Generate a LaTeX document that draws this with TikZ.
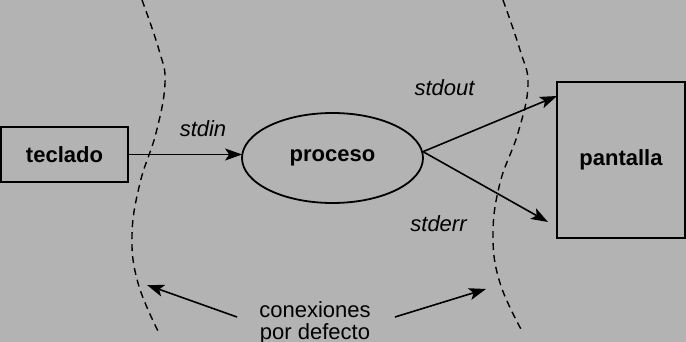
\documentclass[tikz,border=0pt]{standalone}
\usepackage{fontspec}
\setmainfont{Liberation Sans}
\usetikzlibrary{arrows.meta,shapes.geometric}
\definecolor{bg}{HTML}{B3B3B3}
\begin{document}
\begin{tikzpicture}[x=1pt,y=-1pt,
  every node/.style={font=\fontsize{22}{22}\selectfont},
  device/.style={draw,line width=1.8pt,inner sep=0pt,font=\fontsize{22}{22}\selectfont\bfseries},
  proc/.style={draw,ellipse,line width=1.8pt,inner sep=0pt,font=\fontsize{22}{22}\selectfont\bfseries},
  stream/.style={font=\fontsize{22}{22}\selectfont\itshape,anchor=base,inner sep=0pt},
  note/.style={anchor=base,inner sep=0pt},
  flow/.style={-{Stealth[length=17pt,width=12pt,inset=4pt]}},
  border/.style={dashed,line width=1.4pt,dash pattern=on 7pt off 5pt}]
  % background
  \fill[bg] (0,0) rectangle (686,342);
  \useasboundingbox (0,0) rectangle (686,342);

  % boundaries of the default connections
  \draw[border] plot[smooth,tension=0.7] coordinates
    {(142,0) (159,50) (165,83) (156,133) (140,183) (132,235) (138,283) (158,331)};
  \draw[border] plot[smooth,tension=0.7] coordinates
    {(503,0) (520,50) (528,85) (518,133) (500,183) (493,235) (500,283) (522,331)};

  % devices and process
  \node[device,minimum width=127pt,minimum height=55pt] (teclado) at (64.5,154.5) {teclado};
  \node[proc,minimum width=181pt,minimum height=90pt] (proceso) at (332.5,158) {proceso};
  \node[device,minimum width=128pt,minimum height=156pt] (pantalla) at (621,160) {pantalla};

  % stream labels
  \node[stream] (stdin) at (203,137) {stdin};
  \node[stream] (stdout) at (444.5,96) {stdout};
  \node[stream] (stderr) at (438.5,232) {stderr};

  % note
  \node[note] (lbl1) at (315,317) {conexiones};
  \node[note] (lbl2) at (315,339) {por defecto};

  % arrow end points
  \coordinate (inend) at (teclado.east -| proceso.west);
  \coordinate (outtip) at (557,96);
  \coordinate (errtip) at (548,222);
  \coordinate (ltail) at (237,317);
  \coordinate (lhead) at (147,285);
  \coordinate (rtail) at (395,317);
  \coordinate (rhead) at (486,289);

  % streams
  \draw[flow,line width=1pt] (teclado.east) -- ([xshift=1pt]inend);
  \draw[flow,line width=1.6pt] (proceso.4) -- (outtip);
  \draw[flow,line width=1.6pt] (proceso.4) -- (errtip);

  % pointers to the boundaries
  \draw[flow,line width=1.6pt] (ltail) -- (lhead);
  \draw[flow,line width=1.6pt] (rtail) -- (rhead);
\end{tikzpicture}
\end{document}
